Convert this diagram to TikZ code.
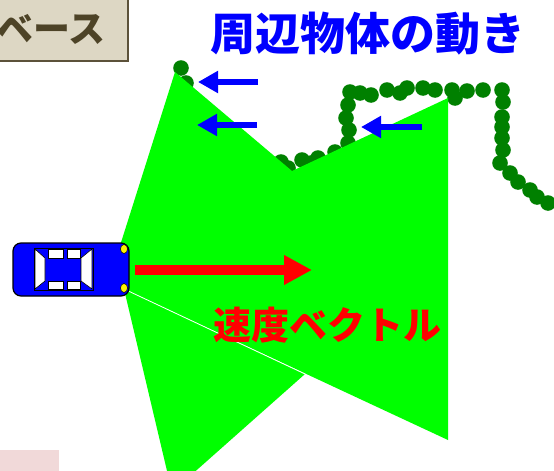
\documentclass[tikz,border=0pt]{standalone}
\usepackage{fontspec}
\newfontfamily\jp{Noto Sans CJK JP}
\usetikzlibrary{positioning,arrows.meta,shapes.geometric}
\definecolor{fov}{RGB}{0,255,0}
\definecolor{trackgreen}{RGB}{0,128,0}
\definecolor{basefill}{RGB}{221,215,196}
\definecolor{baseedge}{RGB}{92,82,58}
\definecolor{basetext}{RGB}{77,67,39}
\definecolor{memo}{RGB}{241,217,217}

\begin{document}
\begin{tikzpicture}[x=1pt, y=-1pt,
track/.style={fill=trackgreen},
motion/.style={blue, line width=6pt, -{Triangle[width=21pt,length=20pt]}},
velocity/.style={red, line width=10pt, -{Triangle[width=28pt,length=28pt]}},
window/.style={fill=white, draw=black, line width=0.6pt},
lamp/.style={ellipse, fill=yellow, draw=black, line width=0.5pt, inner sep=0pt, minimum width=7pt, minimum height=9pt}]

\useasboundingbox (0,0) rectangle (554,471);

\fill[memo] (0,450) rectangle (59,471);
\draw[fill=basefill, draw=baseedge, line width=2pt] (-10,-10) rectangle (128,61);
\node[text=basetext, font=\jp\bfseries\fontsize{37}{40}\selectfont, inner sep=0pt, anchor=east] (base) at (106,29) {ベース};
\node[text=blue, font=\jp\bfseries\fontsize{45}{50}\selectfont, inner sep=0pt] (title) at (368,34) {周辺物体の動き};

\foreach \x/\y in {181/68, 186/83, 281/162, 288/168, 302/160, 311/163, 318/158, 335/152,
  348/143, 349/130, 346/118, 348/105, 350/92, 360/93, 371/95, 387/90, 400/93,
  407/88, 423/88, 435/90, 452/90, 455/98, 467/91, 483/90, 502/90, 503/102,
  502/117, 502/127, 502/138, 503/150, 500/163, 510/173, 518/182, 530/190,
  537/197, 548/203}
  \fill[track] (\x,\y) circle (7.8pt);

\fill[fov] (118,252) -- (175,72) -- (292,171) -- (448,98) -- (448,440) -- (124,289) -- cycle;
\fill[fov] (124,289) -- (305,374) -- (172,492) -- cycle;
\draw[white, line width=0.8pt] (124,289) -- (305,374);

\coordinate (m1s) at (258,82);
\coordinate (m1e) at (198,82);
\coordinate (m2s) at (257,125);
\coordinate (m2e) at (197,125);
\coordinate (m3s) at (422,127);
\coordinate (m3e) at (361,127);
\draw[motion] (m1s) -- (m1e);
\draw[motion] (m2s) -- (m2e);
\draw[motion] (m3s) -- (m3e);

\draw[fill=blue, draw=black, line width=1.2pt, rounded corners=8pt] (13,243) rectangle (129,296);
\draw[fill=blue, draw=black, line width=0.8pt] (34,248) rectangle (93,290);
\draw[window] (35,249) -- (45,258) -- (45,281) -- (35,289) -- cycle;
\draw[window] (81,258) -- (92,249) -- (92,289) -- (81,281) -- cycle;
\draw[window] (48,249) rectangle (63,258);
\draw[window] (67,249) rectangle (80,258);
\draw[window] (48,281) rectangle (63,289);
\draw[window] (67,281) rectangle (80,289);
\node[lamp] (lamp1) at (124,249) {};
\node[lamp] (lamp2) at (124,288) {};

\coordinate (v0) at (135,270);
\coordinate (v1) at (312,270);
\draw[velocity] (v0) -- (v1);
\node[text=red, font=\jp\bfseries\fontsize{38}{42}\selectfont, inner sep=0pt] (speed) at (327,325) {速度ベクトル};

\end{tikzpicture}
\end{document}
